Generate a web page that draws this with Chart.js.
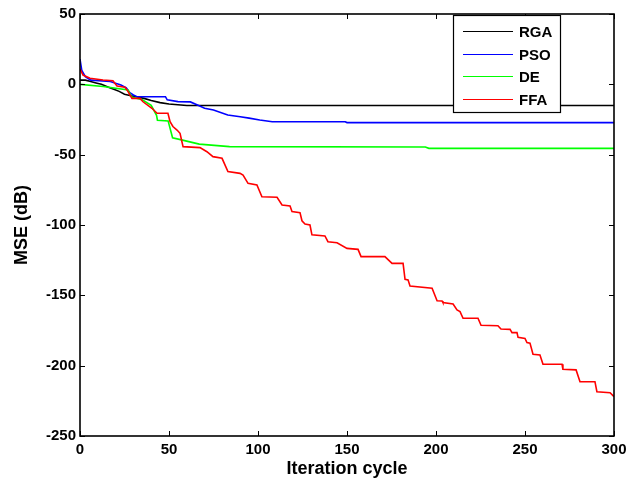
<!DOCTYPE html>
<html>
<head>
<meta charset="utf-8">
<script src="https://cdn.jsdelivr.net/npm/chart.js@4.4.1/dist/chart.umd.min.js"></script>
<style>
    html, body { margin: 0; padding: 0; background: white; }
    #wrap { width: 641px; height: 488px; }
</style>
</head>
<body>
<div id="wrap"><canvas id="grafico"></canvas></div>
<script>
// breakpoints (iteration, MSE dB)
const rgaX = [0, 3, 6, 9, 12, 14, 16, 19, 22, 25, 28, 32, 36, 40, 45, 50, 60, 300];
const rgaY = [3, 3, 2, 1, 0, -1, -2, -3.5, -5, -7, -8, -9, -10, -11.5, -13, -14, -15, -15];

const psoX = [0, 1, 3, 6, 17, 20, 23, 26, 28, 30, 32, 48, 49, 55, 62, 66, 70, 75, 83, 90, 95, 101, 108, 149, 150, 300];
const psoY = [18, 10, 5.4, 3, 2, 0.7, -0.5, -2.6, -6, -7.6, -8.8, -8.8, -11, -12.3, -12.5, -14.7, -17, -18.2, -21.8, -23, -24, -25.4, -26.6, -26.6, -27.2, -27.2];

const deX = [0, 13, 27, 29, 35, 40, 43, 43.5, 49.5, 52, 57, 67, 84, 194, 196, 300];
const deY = [0, -1.5, -4, -9, -11, -15, -22, -25.5, -26, -38, -39.5, -42.5, -44.3, -44.5, -45.5, -45.5];

const ffaX = [0, 1.7, 5.6, 12.9, 18.5, 20.8, 25.3, 27, 29.2, 33.7, 35.4, 40.4, 43.3, 49.4, 50.6, 52.2, 54.5, 56.2, 57.9,
    67.4, 71.3, 74.7, 79.8, 83.1, 89.9, 91.6, 94.4, 99.4, 102.2, 110.7, 113.5, 118, 119.1, 123.6, 124.7, 126.4, 129.2,
    130.3, 137.6, 139.3, 144.4, 150, 156.2, 157.9, 171.3, 175.3, 181.5, 182.6, 184.3, 185.4, 197.8, 200.6, 203.4, 203.9,
    209.6, 211.8, 213.5, 215.2, 223.6, 225.3, 234.8, 236.5, 241.6, 242.7, 245.5, 246.1, 250, 251.1, 252.8, 254.5, 258.4,
    260.1, 270.8, 271.3, 278.7, 280.9, 289.3, 290.4, 297.8, 300];
const ffaY = [11, 6.6, 4.3, 3.1, 2.6, -1.2, -2.1, -5.2, -10, -10, -12.4, -17, -20.6, -20.6, -26.6, -30, -32.5, -34.8, -44.3,
    -45, -47.9, -51.4, -52.6, -62, -63.3, -64.5, -70.4, -71.6, -79.9, -80.3, -85.8, -86.5, -90.5, -91.2, -97, -99.3, -100,
    -107, -107.8, -111.9, -112.6, -116.6, -117.3, -122.5, -122.5, -127.3, -127.3, -138.6, -139, -143.4, -145, -153.8, -154, -155.2,
    -156.2, -160.4, -161.6, -166.3, -166.3, -171.3, -171.6, -173.9, -174.2, -176.5, -176.5, -179.9, -180.6, -183.6, -184, -191.9, -192.4,
    -199, -199, -202.6, -203, -211.4, -211.4, -218.5, -219.2, -222];

const nombres = ['RGA', 'PSO', 'DE', 'FFA'];
const colores = ['#000000', '#0000ff', '#00ff00', '#ff0000'];
const xTicks = [0, 50, 100, 150, 200, 250, 300];
const yTicks = [50, 0, -50, -100, -150, -200, -250];

function puntos(xs, ys) {
    return xs.map((v, i) => ({ x: v, y: ys[i] }));
}

const marco = {
    id: 'marco_matlab',
    afterDatasetsDraw: (chart) => {
        const ctx = chart.ctx;
        const a = chart.chartArea;
        const sx = chart.scales.x;
        const sy = chart.scales.y;
        ctx.save();
        ctx.strokeStyle = 'black';
        ctx.lineWidth = 1;
        // inward ticks on all four sides
        ctx.beginPath();
        xTicks.forEach(t => {
            const px = Math.round(sx.getPixelForValue(t)) + 0.5;
            ctx.moveTo(px, a.bottom); ctx.lineTo(px, a.bottom - 5);
            ctx.moveTo(px, a.top); ctx.lineTo(px, a.top + 5);
        });
        yTicks.forEach(t => {
            const py = Math.round(sy.getPixelForValue(t)) + 0.5;
            ctx.moveTo(a.left, py); ctx.lineTo(a.left + 5, py);
            ctx.moveTo(a.right, py); ctx.lineTo(a.right - 5, py);
        });
        ctx.stroke();
        ctx.lineWidth = 1.6;
        ctx.strokeRect(a.left, a.top, a.right - a.left, a.bottom - a.top);

        // legend box, top right inside the axes
        const bx = 453, by = Math.round(a.top) + 1, bw = 107, bh = 97;
        ctx.fillStyle = 'white';
        ctx.fillRect(bx, by, bw, bh);
        ctx.strokeStyle = 'black';
        ctx.lineWidth = 1.2;
        ctx.strokeRect(bx + 0.5, by + 0.5, bw, bh);
        ctx.font = 'bold 15px "Liberation Sans", Arial, sans-serif';
        ctx.textBaseline = 'middle';
        ctx.textAlign = 'left';
        nombres.forEach((n, i) => {
            const ly = Math.round(by + 16 + i * 22.5) + 0.5;
            ctx.strokeStyle = colores[i];
            ctx.lineWidth = 1;
            ctx.beginPath();
            ctx.moveTo(bx + 10, ly); ctx.lineTo(bx + 60, ly);
            ctx.stroke();
            ctx.fillStyle = 'black';
            ctx.fillText(n, bx + 66, ly + 1);
        });
        ctx.restore();
    }
};

const fondo = {
    id: 'custom_canvas_background_color',
    beforeDraw: (chart) => {
        const ctx = chart.canvas.getContext('2d');
        ctx.save();
        ctx.globalCompositeOperation = 'destination-over';
        ctx.fillStyle = 'white';
        ctx.fillRect(0, 0, chart.width, chart.height);
        ctx.restore();
    }
};

const fuenteTicks = { family: '"Liberation Sans", Arial, sans-serif', size: 15, weight: 'bold' };
const fuenteTitulo = { family: '"Liberation Sans", Arial, sans-serif', size: 18, weight: 'bold' };

new Chart(document.getElementById('grafico'), {
    type: 'line',
    plugins: [fondo, marco],
    data: {
        datasets: [
            { label: nombres[0], data: puntos(rgaX, rgaY), borderColor: colores[0], order: 4 },
            { label: nombres[1], data: puntos(psoX, psoY), borderColor: colores[1], order: 3 },
            { label: nombres[2], data: puntos(deX, deY), borderColor: colores[2], order: 2 },
            { label: nombres[3], data: puntos(ffaX, ffaY), borderColor: colores[3], order: 1 }
        ]
    },
    options: {
        responsive: true,
        maintainAspectRatio: false,
        animation: false,
        layout: { padding: { top: 14, right: 27, left: 0, bottom: 0 } },
        elements: {
            point: { radius: 0 },
            line: { borderWidth: 1.6, tension: 0, fill: false }
        },
        scales: {
            x: {
                type: 'linear',
                min: 0,
                max: 300,
                afterFit: (s) => { s.height = 52; },
                afterBuildTicks: (s) => { s.ticks = xTicks.map(v => ({ value: v })); },
                grid: { display: false, drawTicks: false, tickLength: 0 },
                border: { display: false },
                ticks: { color: 'black', font: fuenteTicks, padding: 5, maxRotation: 0 },
                title: { display: true, text: 'Iteration cycle', color: 'black', font: fuenteTitulo, padding: { top: 0, bottom: 8 } }
            },
            y: {
                type: 'linear',
                min: -250,
                max: 50,
                afterFit: (s) => { s.width = 80; },
                afterBuildTicks: (s) => { s.ticks = yTicks.map(v => ({ value: v })); },
                grid: { display: false, drawTicks: false, tickLength: 0 },
                border: { display: false },
                ticks: { color: 'black', font: fuenteTicks, padding: 4 },
                title: { display: true, text: 'MSE (dB)', color: 'black', font: fuenteTitulo, padding: { top: 11, bottom: 0 } }
            }
        },
        plugins: {
            legend: { display: false },
            tooltip: { enabled: false }
        }
    }
});
</script>
</body>
</html>
